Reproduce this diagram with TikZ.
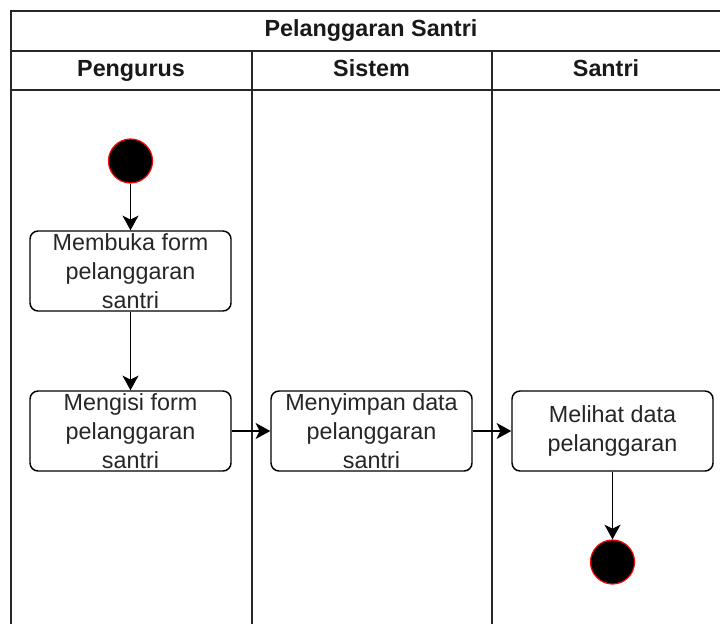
\documentclass[tikz,border=0pt]{standalone}
\usepackage{fontspec}
\setmainfont{Liberation Sans}
\usetikzlibrary{arrows.meta}
\begin{document}
\begin{tikzpicture}[x=0.75pt,y=-0.75pt,
  lane/.style={line width=1.5pt,draw=black!85},
  act/.style={draw=black,line width=1.1pt,rounded corners=6pt,fill=white,
    minimum width=150.75pt,minimum height=60pt,inner sep=0pt,align=center,
    font=\fontsize{17.5}{21.75}\selectfont,text=black!85},
  startnode/.style={circle,fill=black,draw=red,line width=0.9pt,minimum size=33pt,inner sep=0pt},
  flow/.style={line width=1.2pt,-{Stealth[length=11pt,width=12pt,inset=3pt]}},
  head/.style={font=\fontsize{17.5}{21}\selectfont\bfseries,text=black!90,
    text height=12.5pt,text depth=3.7pt,inner sep=0pt}
]
\useasboundingbox (0,0) rectangle (720,624);
\fill[white] (0,0) rectangle (720,624);

% pool frame, title row and lane headers
\draw[lane] (10.5,624) -- (10.5,11) -- (720,11);
\draw[lane] (10.5,51) -- (720,51);
\draw[lane] (10.5,90) -- (720,90);
\draw[lane] (251.5,51) -- (251.5,624);
\draw[lane] (492,51) -- (492,624);

\node[head] (title) at (371,31) {Pelanggaran Santri};
\node[head] (h1) at (131,71) {Pengurus};
\node[head] (h2) at (371.5,71) {Sistem};
\node[head] (h3) at (606,71) {Santri};

% activities
\node[startnode] (start) at (130.5,161) {};
\node[act] (a1) at (130.5,271) {Membuka form\\pelanggaran\\santri};
\node[act] (a2) at (130.5,431) {Mengisi form\\pelanggaran\\santri};
\node[act] (a3) at (371.5,431) {Menyimpan data\\pelanggaran\\santri};
\node[act] (a4) at (612.5,431) {Melihat data\\pelanggaran};
\node[startnode] (end) at (612.5,562) {};

% control flow
\draw[flow] (start) -- (a1);
\draw[flow] (a1) -- (a2);
\draw[flow] (a2) -- (a3);
\draw[flow] (a3) -- (a4);
\draw[flow] (a4) -- (end);
\end{tikzpicture}
\end{document}
